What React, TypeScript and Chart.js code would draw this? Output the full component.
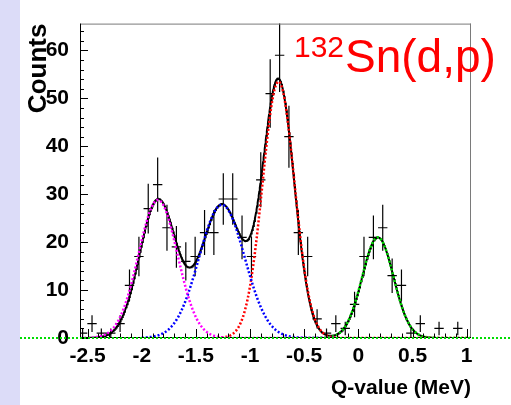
import React, { useEffect, useRef } from 'react';
import { Chart, registerables } from 'chart.js';

Chart.register(...registerables);

// ---- Data ----
const binCenters = [
  -2.546, -2.459, -2.373, -2.286, -2.2, -2.113, -2.026, -1.94, -1.853, -1.767,
  -1.68, -1.593, -1.507, -1.42, -1.334, -1.247, -1.16, -1.074, -0.987, -0.901,
  -0.814, -0.727, -0.641, -0.554, -0.468, -0.381, -0.294, -0.208, -0.121, -0.035,
  0.052, 0.139, 0.225, 0.312, 0.398, 0.485, 0.572, 0.745, 0.918,
];
const binCounts = [
  1, 3, 1, 1, 3, 11, 17, 27, 32, 23,
  19, 16, 17, 22, 22, 29, 29, 21, 17, 33,
  51, 59, 42, 22, 17, 4, 1, 3, 2, 7,
  17, 21, 23, 13, 11, 1, 3, 2, 2,
];
const binWidth = 0.0866;

// Gaussian components (magenta, blue, red, green)
const peakColors = ['#ff00ff', '#0000ff', '#ff0000', '#00dd00'];
const peakAmplitudes = [28.8, 27.8, 53.5, 21.0];
const peakCentroids = [-1.85, -1.26, -0.737, 0.18];
const peakSigmas = [0.18, 0.21, 0.147, 0.145];
const peakRangeLow = [-2.57, -2.0, -1.3, -0.5];
const peakRangeHigh = [-0.2, -0.2, 1.04, 1.04];

// Total fit (black)
const totalAmplitudes = [28.8, 27.8, 53.5, 21.0];
const totalCentroids = [-1.85, -1.26, -0.737, 0.18];
const totalSigmas = [0.17, 0.19, 0.145, 0.145];

const xTickValues = [-2.5, -2, -1.5, -1, -0.5, 0, 0.5, 1];
const yTickValues = [0, 10, 20, 30, 40, 50, 60];
const X_MIN = -2.57;
const X_MAX = 1.04;
const Y_MIN = 0;
const Y_MAX = 65.6;

const titleMass = '132';
const titleReaction = 'Sn(d,p)';
const xTitle = 'Q-value (MeV)';
const yTitle = 'Counts';

const SANS = "'Liberation Sans', Arial, sans-serif";

function gauss(a: number, m: number, s: number, x: number) {
  const d = (x - m) / s;
  return a * Math.exp(-0.5 * d * d);
}

function sampleCurve(amps: number[], means: number[], sigmas: number[], lo: number, hi: number) {
  const pts: { x: number; y: number }[] = [];
  const n = Math.round((hi - lo) / 0.005);
  for (let i = 0; i <= n; i++) {
    const x = lo + ((hi - lo) * i) / n;
    let y = 0;
    for (let k = 0; k < amps.length; k++) y += gauss(amps[k], means[k], sigmas[k], x);
    pts.push({ x, y });
  }
  return pts;
}

const decorPlugin = {
  id: 'decor',
  beforeDraw(chart: any) {
    const ctx = chart.ctx;
    ctx.save();
    ctx.fillStyle = '#ffffff';
    ctx.fillRect(0, 0, chart.width, chart.height);
    ctx.fillStyle = '#dcdcf8';
    ctx.fillRect(0, 0, 20, chart.height);
    ctx.restore();
  },
  beforeDatasetsDraw(chart: any) {
    const { ctx, chartArea, scales } = chart;
    const xs = scales.x;
    const ys = scales.y;
    ctx.save();
    ctx.beginPath();
    ctx.rect(chartArea.left, chartArea.top, chartArea.right - chartArea.left, chartArea.bottom - chartArea.top);
    ctx.clip();
    ctx.strokeStyle = '#000000';
    ctx.lineWidth = 1.2;
    binCenters.forEach((c, i) => {
      const n = binCounts[i];
      const err = Math.sqrt(n);
      const px = xs.getPixelForValue(c);
      const py = ys.getPixelForValue(n);
      const xl = xs.getPixelForValue(c - binWidth / 2);
      const xr = xs.getPixelForValue(c + binWidth / 2);
      const yt = ys.getPixelForValue(n + err);
      const yb = ys.getPixelForValue(n - err);
      ctx.beginPath();
      ctx.moveTo(xl, py);
      ctx.lineTo(xr, py);
      ctx.moveTo(px, yt);
      ctx.lineTo(px, yb);
      ctx.stroke();
    });
    ctx.restore();
  },
  afterDraw(chart: any) {
    const { ctx, chartArea, scales } = chart;
    const xs = scales.x;
    const ys = scales.y;
    const { left, right, top, bottom } = chartArea;
    ctx.save();
    // frame
    ctx.lineWidth = 1;
    ctx.strokeStyle = '#7a7a7a';
    ctx.beginPath();
    ctx.moveTo(left, top + 0.5);
    ctx.lineTo(right, top + 0.5);
    ctx.moveTo(right - 0.5, top);
    ctx.lineTo(right - 0.5, bottom);
    ctx.stroke();
    ctx.strokeStyle = '#000000';
    ctx.beginPath();
    ctx.moveTo(left + 0.5, top);
    ctx.lineTo(left + 0.5, bottom);
    ctx.moveTo(left, bottom - 0.5);
    ctx.lineTo(right, bottom - 0.5);
    ctx.stroke();
    // x ticks (inward)
    ctx.beginPath();
    for (let k = -25; k <= 10; k++) {
      const v = k / 10;
      const px = Math.round(xs.getPixelForValue(v)) + 0.5;
      const len = k % 5 === 0 ? 9 : 4.5;
      ctx.moveTo(px, bottom);
      ctx.lineTo(px, bottom - len);
    }
    // y ticks (inward)
    for (let v = 0; v <= 64; v += 2) {
      const py = Math.round(ys.getPixelForValue(v)) + 0.5;
      const len = v % 10 === 0 ? 8 : 4;
      ctx.moveTo(left, py);
      ctx.lineTo(left + len, py);
    }
    ctx.stroke();
    // green zero line
    const y0 = ys.getPixelForValue(0);
    ctx.strokeStyle = '#00dd00';
    ctx.lineWidth = 2;
    ctx.setLineDash([2, 2]);
    ctx.beginPath();
    ctx.moveTo(20, y0);
    ctx.lineTo(chart.width, y0);
    ctx.stroke();
    ctx.setLineDash([]);
    // title
    ctx.fillStyle = '#ff0000';
    ctx.textBaseline = 'alphabetic';
    ctx.textAlign = 'left';
    ctx.font = `30px ${SANS}`;
    ctx.fillText(titleMass, 294, 56.5);
    ctx.font = `46px ${SANS}`;
    ctx.fillText(titleReaction, 345, 72);
    ctx.restore();
  },
};

export default function App() {
  const ref = useRef<HTMLCanvasElement | null>(null);
  useEffect(() => {
    if (!ref.current) return;
    const datasets: any[] = [];
    for (let k = 0; k < peakAmplitudes.length; k++) {
      datasets.push({
        data: sampleCurve([peakAmplitudes[k]], [peakCentroids[k]], [peakSigmas[k]], peakRangeLow[k], peakRangeHigh[k]),
        borderColor: peakColors[k],
        borderWidth: 2.5,
        borderDash: [2, 2],
        showLine: true,
        pointRadius: 0,
        fill: false,
      });
    }
    datasets.push({
      data: sampleCurve(totalAmplitudes, totalCentroids, totalSigmas, X_MIN, X_MAX),
      borderColor: '#000000',
      borderWidth: 2,
      showLine: true,
      pointRadius: 0,
      fill: false,
    });
    datasets.push({
      data: binCenters.map((c, i) => ({ x: c, y: binCounts[i] })),
      pointRadius: 0,
      showLine: false,
    });
    const chart = new Chart(ref.current, {
      type: 'scatter',
      data: { datasets },
      plugins: [decorPlugin],
      options: {
        responsive: false,
        animation: false,
        layout: { padding: { left: 0, top: 7, right: 40, bottom: 0 } },
        plugins: { legend: { display: false }, tooltip: { enabled: false } },
        scales: {
          x: {
            type: 'linear',
            min: X_MIN,
            max: X_MAX,
            grid: { display: false, drawTicks: false },
            border: { display: false },
            afterBuildTicks: (s: any) => {
              s.ticks = xTickValues.map((v) => ({ value: v }));
            },
            afterFit: (s: any) => {
              s.height = 67;
            },
            ticks: {
              padding: 6,
              color: '#000000',
              autoSkip: false,
              maxRotation: 0,
              font: { family: SANS, size: 21, weight: 'bold' },
              callback: (v: any) => String(v),
            },
            title: {
              display: true,
              text: xTitle,
              align: 'end',
              color: '#000000',
              font: { family: SANS, size: 21, weight: 'bold' },
              padding: { top: 0, bottom: 4 },
            },
          },
          y: {
            type: 'linear',
            min: Y_MIN,
            max: Y_MAX,
            grid: { display: false, drawTicks: false },
            border: { display: false },
            afterBuildTicks: (s: any) => {
              s.ticks = yTickValues.map((v) => ({ value: v }));
            },
            afterFit: (s: any) => {
              s.width = 80;
            },
            ticks: {
              padding: 11,
              color: '#000000',
              autoSkip: false,
              font: { family: SANS, size: 21, weight: 'bold' },
              callback: (v: any) => String(v),
            },
            title: {
              display: true,
              text: yTitle,
              align: 'end',
              color: '#000000',
              font: { family: SANS, size: 26, weight: 'bold' },
              padding: { top: 23, bottom: 0 },
            },
          },
        },
      } as any,
    });
    return () => chart.destroy();
  }, []);
  return (
    <div style={{ position: 'fixed', left: 0, top: 0, width: 511, height: 405 }}>
      <canvas ref={ref} width={511} height={405} style={{ width: 511, height: 405, display: 'block' }} />
    </div>
  );
}
